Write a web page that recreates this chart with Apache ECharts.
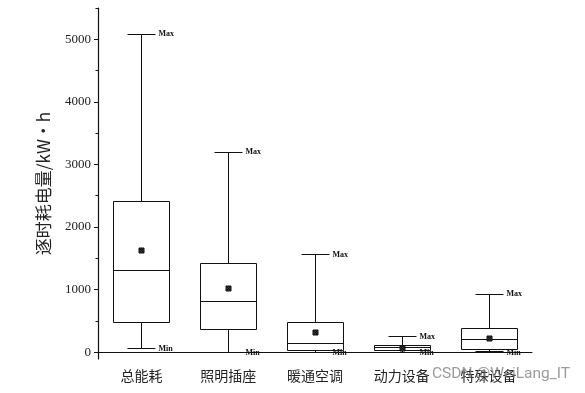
<!DOCTYPE html>
<html><head><meta charset="utf-8">
<script src="https://cdn.jsdelivr.net/npm/echarts@6/dist/echarts.min.js"></script>
<style>html,body{margin:0;padding:0;background:#fff}#c{width:585px;height:393px}</style>
</head><body><div id="c"></div>
<script>
const categories = ['总能耗', '照明插座', '暖通空调', '动力设备', '特殊设备'];
const minVals    = [64, 0, 5, 5, 10];
const q1Vals     = [481, 362, 32, 26, 48];
const medianVals = [1309, 825, 138, 80, 202];
const q3Vals     = [2420, 1417, 480, 106, 378];
const maxVals    = [5090, 3200, 1561, 250, 928];
const meanVals   = [1640, 1017, 320, 64, 224];
const yLabelValues = [0, 1000, 2000, 3000, 4000, 5000];
const yMinorTicks = [500, 1500, 2500, 3500, 4500, 5500];

const data = categories.map((c, i) => [i, minVals[i], q1Vals[i], medianVals[i], q3Vals[i], maxVals[i], meanVals[i]]);

const serifNum = '"Liberation Serif", "DejaVu Serif", serif';
const lab = { fontFamily: serifNum, fontSize: 8, fontWeight: 'bold', fill: '#111' };

function renderItem(params, api) {
  const x = api.value(0);
  const pMin = api.coord([x, api.value(1)]);
  const pQ1 = api.coord([x, api.value(2)]);
  const pMed = api.coord([x, api.value(3)]);
  const pQ3 = api.coord([x, api.value(4)]);
  const pMax = api.coord([x, api.value(5)]);
  const pMean = api.coord([x, api.value(6)]);
  const cx = Math.round(pMin[0]) + 0.5;
  const bw = 56, cw = 28;
  const ls = { stroke: '#111', lineWidth: 1, fill: null };
  const r = v => Math.round(v) + 0.5;
  return {
    type: 'group',
    children: [
      { type: 'line', shape: { x1: cx, y1: r(pQ3[1]), x2: cx, y2: r(pMax[1]) }, style: ls },
      { type: 'line', shape: { x1: cx, y1: r(pQ1[1]), x2: cx, y2: r(pMin[1]) }, style: ls },
      { type: 'line', shape: { x1: cx - cw / 2, y1: r(pMax[1]), x2: cx + cw / 2, y2: r(pMax[1]) }, style: ls },
      { type: 'line', shape: { x1: cx - cw / 2, y1: r(pMin[1]), x2: cx + cw / 2, y2: r(pMin[1]) }, style: ls },
      { type: 'rect', shape: { x: cx - bw / 2, y: r(pQ3[1]), width: bw, height: r(pQ1[1]) - r(pQ3[1]) }, style: { stroke: '#111', lineWidth: 1, fill: '#fff' } },
      { type: 'line', shape: { x1: cx - bw / 2, y1: r(pMed[1]), x2: cx + bw / 2, y2: r(pMed[1]) }, style: ls },
      { type: 'rect', shape: { x: cx - 2.5, y: r(pMean[1]) - 2.5, width: 5, height: 5 }, style: { stroke: '#111', lineWidth: 1, fill: '#333' } },
      { type: 'line', shape: { x1: cx - 2.5, y1: r(pMean[1]) - 2.5, x2: cx + 2.5, y2: r(pMean[1]) + 2.5 }, style: ls },
      { type: 'line', shape: { x1: cx + 2.5, y1: r(pMean[1]) - 2.5, x2: cx - 2.5, y2: r(pMean[1]) + 2.5 }, style: ls },
      { type: 'text', x: cx + cw / 2 + 3, y: pMax[1], style: Object.assign({ text: 'Max', verticalAlign: 'middle', align: 'left' }, lab) },
      { type: 'text', x: cx + cw / 2 + 3, y: pMin[1] + 1, style: Object.assign({ text: 'Min', verticalAlign: 'middle', align: 'left' }, lab) }
    ]
  };
}

const chart = echarts.init(document.getElementById('c'));
chart.setOption({
  animation: false,
  grid: { left: 98, right: 53, top: 8, bottom: 34 },
  xAxis: {
    type: 'category', data: categories, boundaryGap: true,
    axisLine: { lineStyle: { color: '#111', width: 1 } },
    axisTick: { alignWithLabel: true, length: 5, lineStyle: { color: '#111' } },
    axisLabel: { color: '#222', fontSize: 14, fontFamily: '"Noto Sans CJK SC"', margin: 10 }
  },
  yAxis: [{
    type: 'value', min: -110, max: 5500,
    name: '逐时耗电量/kW•h', nameLocation: 'middle', nameGap: 46,
    nameTextStyle: { fontSize: 17, color: '#222', fontFamily: '"Noto Sans CJK SC"' },
    axisLine: { show: true, lineStyle: { color: '#111', width: 1.2 } },
    axisTick: { show: true, length: 4, customValues: yLabelValues, lineStyle: { color: '#111' } },
    axisLabel: { customValues: yLabelValues, formatter: v => String(v), color: '#222', fontSize: 13, fontFamily: serifNum, margin: 7 },
    splitLine: { show: false }
  }, {
    type: 'value', min: -110, max: 5500, position: 'left',
    axisLine: { show: false },
    axisTick: { show: true, length: 2.5, customValues: yMinorTicks, lineStyle: { color: '#111' } },
    axisLabel: { show: false },
    splitLine: { show: false }
  }],
  series: [{
    type: 'custom', renderItem: renderItem, data: data,
    encode: { x: 0, y: [1, 2, 3, 4, 5, 6] }
  }],
  graphic: [{
    type: 'text', right: 15, top: 366, z: 100,
    style: { text: 'CSDN @WeiLang_IT', fontSize: 15.5, fill: 'rgba(120,120,120,0.75)', fontFamily: 'Roboto, "Noto Sans"' }
  }]
});
</script></body></html>
